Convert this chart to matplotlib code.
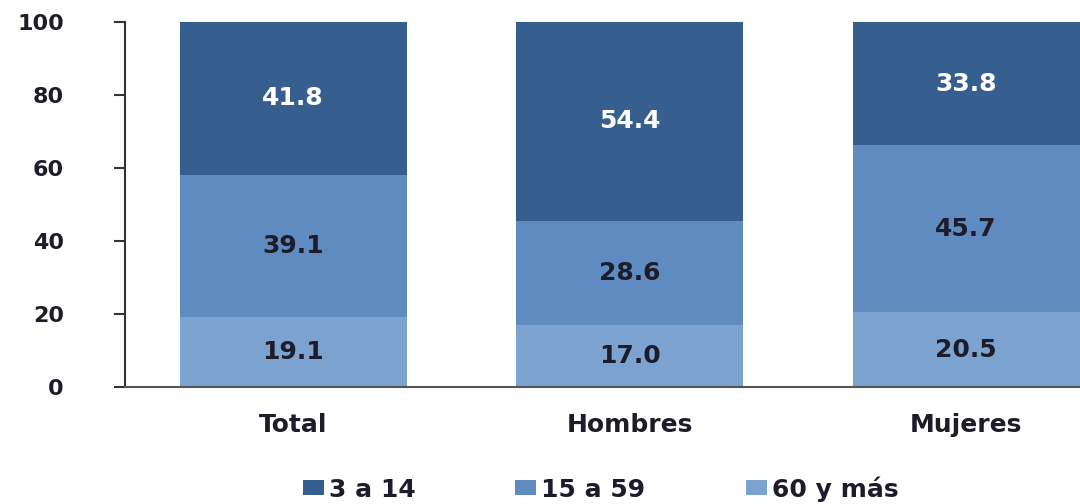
import matplotlib.pyplot as plt
import numpy as np

categories = ['Total', 'Hombres', 'Mujeres']
series_names = ['3 a 14', '15 a 59', '60 y más']
v_60mas = [19.1, 17.0, 20.5]
v_15a59 = [39.1, 28.6, 45.7]
v_3a14 = [41.8, 54.4, 33.8]
yticks = [0, 20, 40, 60, 80, 100]

c_dark = '#365e8f'
c_mid = '#5f8bc1'
c_light = '#7ca2cf'
txt = '#1c1c2a'

plt.rcParams['font.family'] = ['DejaVu Sans']
plt.rcParams['font.weight'] = 'bold'

fig = plt.figure(figsize=(10.8, 5.04), dpi=100)
ax = fig.add_axes([0.1157, 0.2321, 0.9347, 0.7242])

x = np.arange(len(categories))
w = 0.675
b1 = ax.bar(x, v_60mas, w, color=c_light, label=series_names[2])
b2 = ax.bar(x, v_15a59, w, bottom=v_60mas, color=c_mid, label=series_names[1])
bot3 = np.array(v_60mas) + np.array(v_15a59)
b3 = ax.bar(x, v_3a14, w, bottom=bot3, color=c_dark, label=series_names[0])

ax.bar_label(b1, labels=[f'{v:.1f}' for v in v_60mas], label_type='center', color=txt, fontsize=18, fontweight='bold')
ax.bar_label(b2, labels=[f'{v:.1f}' for v in v_15a59], label_type='center', color=txt, fontsize=18, fontweight='bold')
ax.bar_label(b3, labels=[f'{v:.1f}' for v in v_3a14], label_type='center', color='white', fontsize=18, fontweight='bold')

ax.set_xlim(-0.5, 2.5)
ax.set_ylim(0, 100)
ax.set_yticks(yticks)
ax.set_yticklabels([str(t) for t in yticks], fontsize=16, color=txt, fontweight='bold')
ax.set_xticks(x)
ax.set_xticklabels(categories, fontsize=18, color=txt, fontweight='bold')
ax.tick_params(axis='x', length=0, pad=19)
ax.tick_params(axis='y', length=8, width=1.5, color='#333333', pad=36)
for s in ['top', 'right']:
    ax.spines[s].set_visible(False)
ax.spines['left'].set_linewidth(1.5)
ax.spines['left'].set_color('#333333')
ax.spines['bottom'].set_linewidth(1.5)
ax.spines['bottom'].set_color('#555555')

handles = [b3, b2, b1]
fig.legend(handles, series_names, loc='center', bbox_to_anchor=(0.556, 0.03), ncol=3,
           frameon=False, prop={'size': 18, 'weight': 'bold'}, handlelength=0.84, handleheight=0.52,
           handletextpad=0.2, columnspacing=4.0, labelcolor=txt)

plt.savefig('out.png', dpi=100)
